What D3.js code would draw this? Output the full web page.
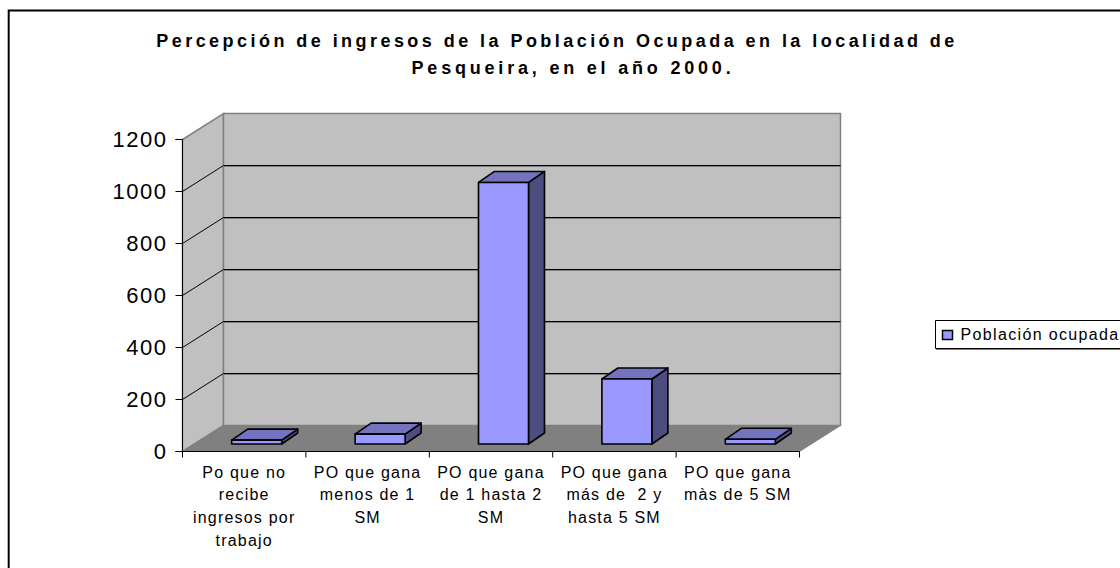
<!DOCTYPE html>
<html lang="es">
  <head>
    <meta charset="UTF-8" />
    <title>Percepción de ingresos</title>
    <script src="https://cdn.jsdelivr.net/npm/d3@7"></script>
    <style>
      html, body { margin: 0; padding: 0; background: #fff; overflow: hidden; }
      text { font-family: "Liberation Sans", Arial, sans-serif; fill: #000; }
    </style>
  </head>
  <body>
    <div id="wrapper"></div>
    <script>
      const titleLines = [
        "Percepción de ingresos de la Población Ocupada en la localidad de",
        "Pesqueira, en el año 2000.",
      ];
      const categories = [
        "Po que no|recibe|ingresos por|trabajo",
        "PO que gana|menos de 1|SM",
        "PO que gana|de 1 hasta 2|SM",
        "PO que gana|más de  2 y|hasta 5 SM",
        "PO que gana|màs de 5 SM",
      ];
      const values = [15, 38, 1006, 250, 18];
      const yTicks = [0, 200, 400, 600, 800, 1000, 1200];
      const seriesName = "Población ocupada";

      const width = 1120;
      const height = 568;
      const plot = { left: 182.5, right: 799.5, top: 139.5, bottom: 451.5 };
      const wallDepth = { x: 41, y: -26 };
      const barDepth = { x: 16, y: -11 };
      const barShift = { x: 12.5, y: -7.5 };
      const barWidth = 50;

      const svg = d3
        .select("#wrapper")
        .append("svg")
        .attr("width", width)
        .attr("height", height)
        .style("display", "block");

      const xScale = d3
        .scaleBand()
        .domain(categories)
        .range([plot.left, plot.right]);
      const yScale = d3
        .scaleLinear()
        .domain([0, 1200])
        .range([plot.bottom, plot.top]);

      const poly = (pts) => pts.map((p) => p.join(",")).join(" ");

      // chart frame, only left and top show inside the window
      svg
        .append("path")
        .attr("d", `M8.7,${height + 5} V10.5 H${width + 5}`)
        .attr("fill", "none")
        .attr("stroke", "#000")
        .attr("stroke-width", 2);

      const titleCenters = [557, 573];
      const titleSpacing = [3.45, 3.8];
      svg
        .append("g")
        .selectAll("text")
        .data(titleLines)
        .join("text")
        .attr("x", (d, i) => titleCenters[i])
        .attr("y", (d, i) => 46.5 + i * 27.5)
        .attr("text-anchor", "middle")
        .attr("font-size", 18)
        .attr("font-weight", "bold")
        .attr("letter-spacing", (d, i) => titleSpacing[i])
        .text((d) => d);

      // walls and floor
      const x0 = plot.left;
      const x1 = plot.right;
      const y0 = yScale(0);
      const y1 = yScale(1200);
      const dx = wallDepth.x;
      const dy = wallDepth.y;
      const walls = svg.append("g");
      walls
        .append("polygon")
        .attr("points", poly([[x0, y0], [x0 + dx, y0 + dy], [x0 + dx, y1 + dy], [x0, y1]]))
        .attr("fill", "#c0c0c0")
        .attr("stroke", "#808080")
        .attr("stroke-width", 1.5);
      walls
        .append("polygon")
        .attr("points", poly([[x0 + dx, y0 + dy], [x1 + dx, y0 + dy], [x1 + dx, y1 + dy], [x0 + dx, y1 + dy]]))
        .attr("fill", "#c0c0c0")
        .attr("stroke", "#808080")
        .attr("stroke-width", 1.5);
      walls
        .append("polygon")
        .attr("points", poly([[x0, y0], [x1, y0], [x1 + dx, y0 + dy], [x0 + dx, y0 + dy]]))
        .attr("fill", "#808080")
        .attr("stroke", "#808080");

      // gridlines, side wall then back wall
      const gridTicks = yTicks.slice(1, -1);
      const grid = svg.append("g").attr("fill", "none");
      grid
        .selectAll("path.under")
        .data(gridTicks)
        .join("path")
        .attr("class", "under")
        .attr("d", (d) => `M${x0 + dx},${yScale(d) + dy + 1} H${x1 + dx}`)
        .attr("stroke", "#808080")
        .attr("stroke-width", 1);
      grid
        .selectAll("path.front")
        .data(gridTicks)
        .join("path")
        .attr("class", "front")
        .attr("d", (d) => `M${x0},${yScale(d)} L${x0 + dx},${yScale(d) + dy} H${x1 + dx}`)
        .attr("stroke", "#000")
        .attr("stroke-width", 1);

      // 3d bars
      const bars = svg
        .append("g")
        .selectAll("g")
        .data(categories.map((c, i) => ({ category: c, value: values[i] })))
        .join("g")
        .attr("stroke", "#000")
        .attr("stroke-width", 1.6)
        .attr("stroke-linejoin", "round");
      const barLeft = (d) =>
        xScale(d.category) + (xScale.bandwidth() - barWidth) / 2 + barShift.x;
      const barTop = (d) => yScale(d.value) + barShift.y;
      const barBase = () => yScale(0) + barShift.y;
      bars
        .append("polygon")
        .attr("fill", "#4d4d80")
        .attr("points", (d) => {
          const r = barLeft(d) + barWidth;
          return poly([
            [r, barTop(d)],
            [r + barDepth.x, barTop(d) + barDepth.y],
            [r + barDepth.x, barBase() + barDepth.y],
            [r, barBase()],
          ]);
        });
      bars
        .append("polygon")
        .attr("fill", "#7373bf")
        .attr("points", (d) => {
          const l = barLeft(d);
          return poly([
            [l, barTop(d)],
            [l + barDepth.x, barTop(d) + barDepth.y],
            [l + barWidth + barDepth.x, barTop(d) + barDepth.y],
            [l + barWidth, barTop(d)],
          ]);
        });
      bars
        .append("rect")
        .attr("fill", "#9999ff")
        .attr("x", barLeft)
        .attr("y", barTop)
        .attr("width", barWidth)
        .attr("height", (d) => barBase() - barTop(d));

      // axes
      const yAxis = svg
        .append("g")
        .attr("transform", `translate(${plot.left},0)`)
        .call(
          d3
            .axisLeft(yScale)
            .tickValues(yTicks)
            .tickFormat(d3.format("d"))
            .tickSize(7)
            .tickPadding(8)
            .offset(0)
        );
      yAxis
        .selectAll("text")
        .attr("font-size", 22)
        .attr("letter-spacing", 1.5)
        .attr("font-family", '"Liberation Sans", Arial, sans-serif');

      const xAxis = svg
        .append("g")
        .attr("transform", `translate(0,${plot.bottom})`)
        .call(d3.axisBottom(xScale).tickSize(0).tickFormat("").offset(0));
      xAxis
        .selectAll(".tick line")
        .attr("transform", `translate(${-xScale.bandwidth() / 2},0)`)
        .attr("y2", 6);
      xAxis
        .append("line")
        .attr("x1", plot.right)
        .attr("x2", plot.right)
        .attr("y2", 6)
        .attr("stroke", "#000");
      svg.selectAll(".domain").attr("stroke", "#000");

      const xLabels = svg
        .append("g")
        .selectAll("text")
        .data(categories)
        .join("text")
        .attr("text-anchor", "middle")
        .attr("font-size", 16)
        .attr("letter-spacing", 1.2)
        .attr("transform", (d) => `translate(${xScale(d) + xScale.bandwidth() / 2},477.5)`);
      xLabels
        .selectAll("tspan")
        .data((d) => d.split("|"))
        .join("tspan")
        .attr("x", 0)
        .attr("y", (d, i) => i * 22.7)
        .attr("xml:space", "preserve")
        .text((d) => d);

      // legend, runs off the right side
      const legend = svg.append("g");
      legend
        .append("path")
        .attr("d", `M${width + 5},320.5 H935.5 V348.5 H${width + 5}`)
        .attr("fill", "#fff")
        .attr("stroke", "#000");
      legend
        .append("line")
        .attr("x1", 936)
        .attr("x2", width)
        .attr("y1", 349.5)
        .attr("y2", 349.5)
        .attr("stroke", "#808080");
      legend
        .append("rect")
        .attr("x", 942.5)
        .attr("y", 330.5)
        .attr("width", 10)
        .attr("height", 9)
        .attr("fill", "#9999ff")
        .attr("stroke", "#000")
        .attr("stroke-width", 1.5);
      legend
        .append("text")
        .attr("x", 960.5)
        .attr("y", 340)
        .attr("font-size", 16)
        .attr("letter-spacing", 1.35)
        .text(seriesName);
    </script>
  </body>
</html>
